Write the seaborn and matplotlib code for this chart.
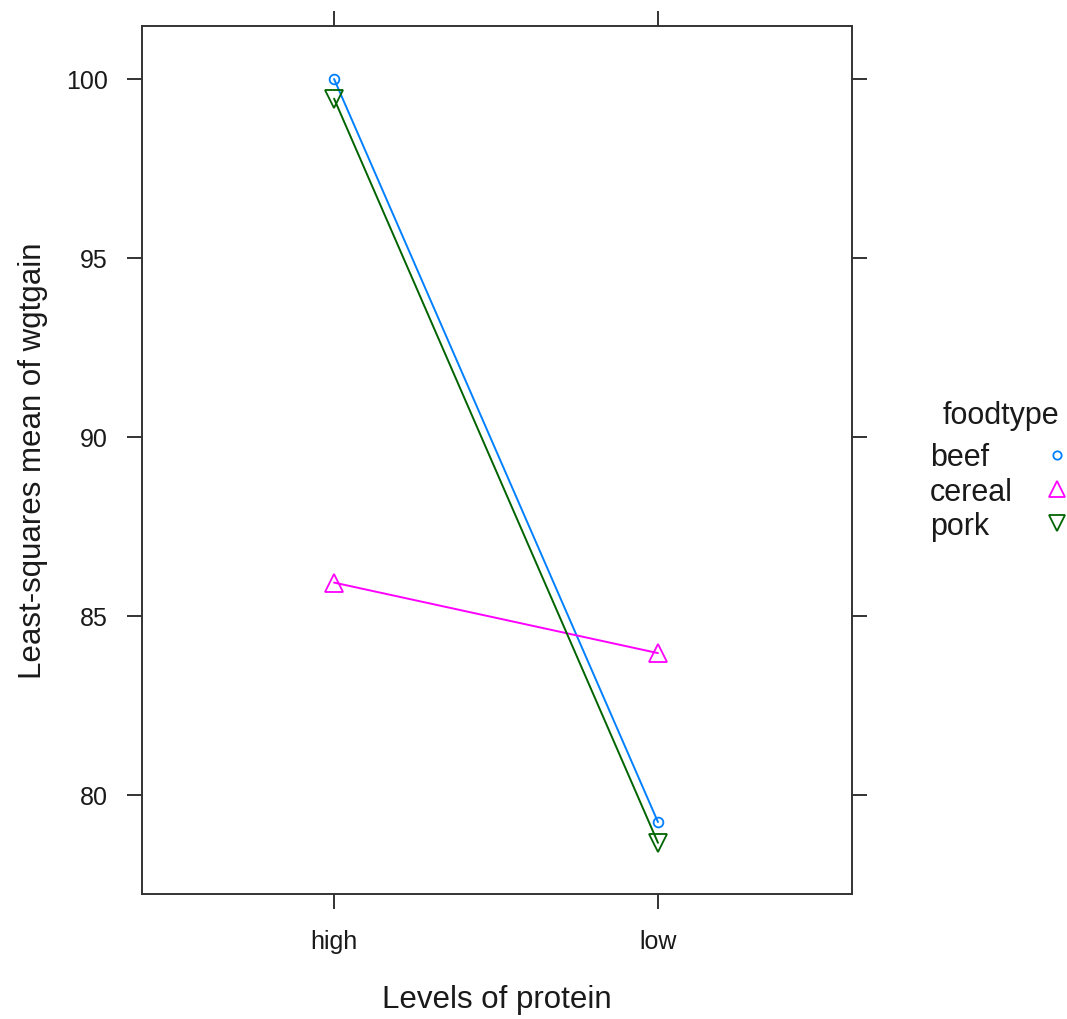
import matplotlib
matplotlib.use("Agg")
import matplotlib.pyplot as plt
from matplotlib.lines import Line2D
import seaborn as sns
import pandas as pd

# ---- data ----
protein = ["high", "low"]
foodtypes = ["beef", "cereal", "pork"]
beef = [100.0, 79.24]
cereal = [85.93, 83.96]
pork = [99.45, 78.66]
y_ticks = [80, 85, 90, 95, 100]

colors = {"beef": "#0080ff", "cereal": "#ff00ff", "pork": "#006400"}
markers = {"beef": "o", "cereal": "^", "pork": "v"}
msizes = {"beef": 7, "cereal": 13, "pork": 13}

df = pd.DataFrame({
    "protein": protein * 3,
    "foodtype": [f for f in foodtypes for _ in protein],
    "wgtgain": beef + cereal + pork,
})

sns.set_style("ticks")
regular = ["Liberation Sans", "DejaVu Sans"]
plt.rcParams["font.family"] = regular

fig = plt.figure(figsize=(10.67, 10.20), dpi=100)
ax = fig.add_axes([142 / 1067, 125 / 1020, 710 / 1067, 868 / 1020])

sns.lineplot(data=df, x="protein", y="wgtgain", hue="foodtype", style="foodtype",
             hue_order=foodtypes, style_order=foodtypes,
             markers=markers, dashes=False, palette=colors, legend=False,
             ax=ax, linewidth=1.4, sort=False)

for line, ft in zip(ax.get_lines(), foodtypes):
    c = line.get_color()
    line.set_markerfacecolor("none")
    line.set_markeredgecolor(c)
    line.set_markeredgewidth(1.3)
    line.set_markersize(msizes[ft])

ax.set_xlim(-0.593, 1.599)
ax.set_ylim(77.23, 101.48)
ax.set_yticks(y_ticks)
ax.set_yticklabels([str(v) for v in y_ticks])

for s in ax.spines.values():
    s.set_visible(True)
    s.set_color("#333333")
    s.set_linewidth(1.4)

ax.tick_params(axis="both", which="both", direction="out", length=11, width=1.4,
               color="#333333", labelsize=18, labelcolor="#1a1a1a",
               top=True, right=True, labeltop=False, labelright=False)
ax.tick_params(axis="y", pad=13.5)
ax.tick_params(axis="x", pad=14)

ax.set_xlabel("Levels of protein", fontsize=22.5, color="#1a1a1a")
ax.set_ylabel("Least-squares mean of wgtgain", fontsize=22.5, color="#1a1a1a")
ax.xaxis.set_label_coords(0.5, -0.104)
ax.yaxis.set_label_coords(-0.133, 0.5)

handles = [Line2D([], [], linestyle="none", marker=markers[f], markersize=msizes[f] - 1,
                  markerfacecolor="none", markeredgecolor=colors[f], markeredgewidth=1.3)
           for f in foodtypes]
leg = fig.legend(handles, foodtypes, title="foodtype", loc="upper left",
                 bbox_to_anchor=(930 / 1067, (1020 - 401) / 1020),
                 frameon=False, markerfirst=False, borderpad=0, borderaxespad=0,
                 handlelength=1.0, handletextpad=0.95, labelspacing=0.14,
                 prop={"family": regular, "size": 22},
                 title_fontproperties={"family": regular, "size": 22})
for t in leg.get_texts():
    t.set_color("#1a1a1a")
leg.get_title().set_color("#1a1a1a")
leg._legend_box.sep = 9.0

# left-align legend labels while keeping markers in one column
fig.canvas.draw()
renderer = fig.canvas.get_renderer()
widths = [t.get_window_extent(renderer).width for t in leg.get_texts()]
wmax = max(widths)
items = []
for col in leg._legend_handle_box.get_children():
    items.extend(col.get_children())
for item, w in zip(items, widths):
    item.sep = item.sep + (wmax - w) * 72 / fig.dpi
for col in leg._legend_handle_box.get_children():
    col.align = "right"

fig.savefig("out.png", dpi=100, facecolor="white")
